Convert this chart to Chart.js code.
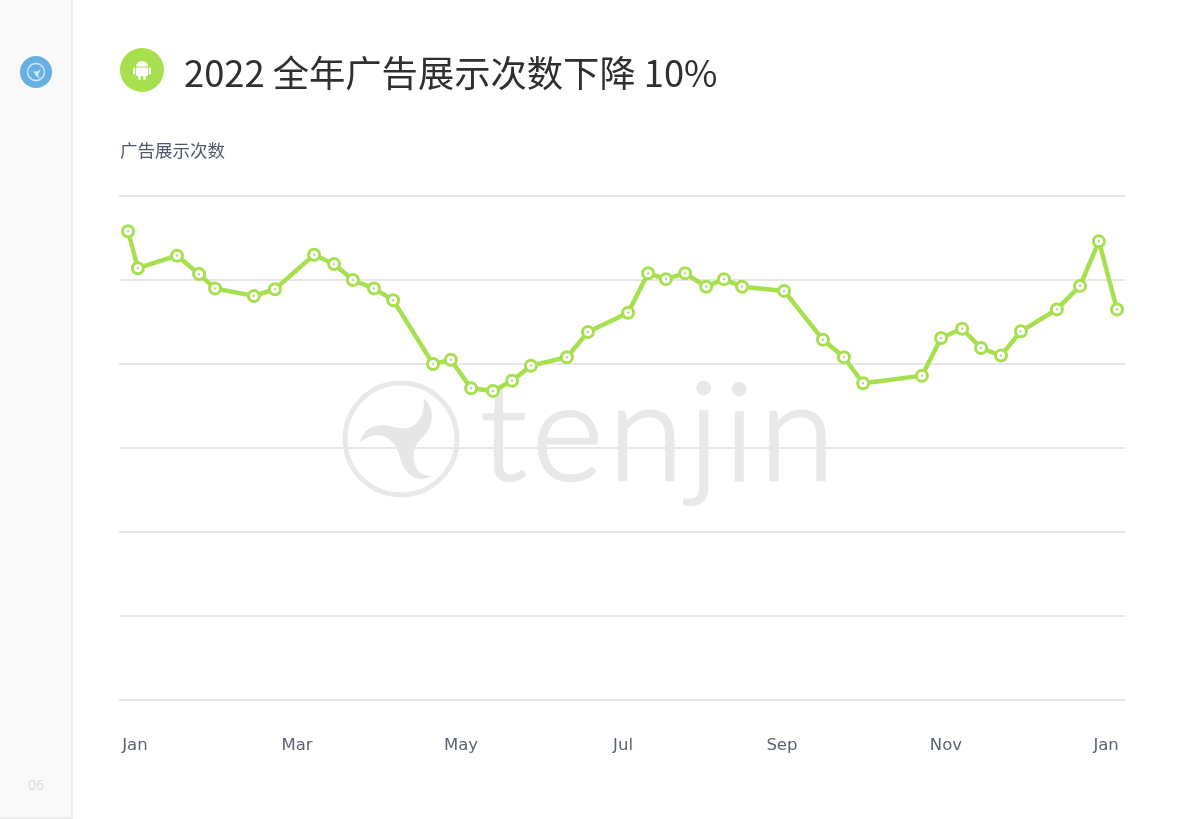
<!DOCTYPE html>
<html lang="zh">
<head>
<meta charset="utf-8">
<title>2022 全年广告展示次数下降 10%</title>
<script src="https://cdn.jsdelivr.net/npm/chart.js@4"></script>
<style>
html,body{margin:0;padding:0;background:#fff;width:1200px;height:819px;overflow:hidden}
#page{position:relative;width:1200px;height:819px;filter:blur(.45px)}
#side{position:absolute;left:0;top:0;width:71px;height:817px;background:#f9f9f9;border-right:2px solid #ececec;border-bottom:2px solid #ececec}
#num{position:absolute;left:0;width:72px;top:775px;text-align:center;font:14px "Open Sans",sans-serif;color:#dcdcdc}
#title{position:absolute;left:184px;top:46px;font:400 36.3px/50px "Noto Sans CJK SC",sans-serif;color:#2f2f2f;white-space:nowrap}
#sub{position:absolute;left:120px;top:138px;font:400 17.5px/24px "Noto Sans CJK SC",sans-serif;color:#4f5866;white-space:nowrap}
#mark{position:absolute;left:480px;top:345px;font:300 137px/165px Lato,sans-serif;color:#e8e8e8;-webkit-text-stroke:2.5px #e8e8e8;white-space:nowrap;letter-spacing:5px}
svg{position:absolute;left:0;top:0}
canvas{position:absolute;left:0;top:0}
</style>
</head>
<body>
<div id="page">
<div id="side"></div>
<div id="num">06</div>
<svg width="1200" height="819" viewBox="0 0 1200 819">
  <circle cx="36" cy="72" r="16" fill="#66b0e4"/>
  <circle cx="36" cy="72" r="8.5" fill="none" stroke="#d6ebf8" stroke-width="1.3"/>
  <path d="M40 66q1 4-2 5-3 1-8 0 4 0 5 3 1 3 5 4-3-3-1-5 2-3 1-7z" fill="#d6ebf8"/>
  <circle cx="142" cy="70" r="22" fill="#a6e04e"/>
  <path d="M136 66.500a6 5.500 0 0 1 12 0z" fill="#fff"/>
  <rect x="136" y="67.500" width="12" height="8.500" rx="1.200" fill="#fff"/>
  <rect x="133" y="67.500" width="2.300" height="7" rx="1.100" fill="#fff"/>
  <rect x="148.700" y="67.500" width="2.300" height="7" rx="1.100" fill="#fff"/>
  <rect x="138.200" y="75" width="2.500" height="5" rx="1.200" fill="#fff"/>
  <rect x="143.300" y="75" width="2.500" height="5" rx="1.200" fill="#fff"/>
  <circle cx="401" cy="439" r="56" fill="none" stroke="#e8e8e8" stroke-width="5"/>
  <path d="M424 399 C434 406 434 421 427 432 C420 441 412 445 414 460 C416 473 424 476 432 476 C422 482 410 479 403 466 C399 457 399 447 389 439 C378 432 368 436 360 443 C362 430 372 425 384 425 C396 427 404 431 413 426 C421 421 424 412 424 399Z" fill="#e6e6e6"/>
</svg>
<div id="mark">tenjin</div>
<div id="title">2022 全年广告展示次数下降 10%</div>
<div id="sub">广告展示次数</div>
<canvas id="c" width="1200" height="819"></canvas>
</div>
<script>
// Y axis has no printed values, so these are relative units.
const dayOfPeriod = [3.4,7.1,21.8,30.1,36.1,50.7,58.6,73.3,80.8,87.9,95.8,103,118,124.7,132.3,140.5,147.7,154.8,168.3,176.2,191.3,198.8,205.5,212.7,220.6,227.3,234.1,249.9,264.5,272.4,279.6,301.7,308.9,316.8,323.9,331.4,338.9,352.4,361.1,368.2,375];
const impressions = [55.8,51.4,52.9,50.7,49.0,48.1,48.9,53.0,51.9,50.0,49.0,47.6,40.0,40.5,37.1,36.8,38.0,39.8,40.8,43.8,46.1,50.8,50.1,50.8,49.2,50.1,49.2,48.7,42.9,40.8,37.7,38.6,43.1,44.2,41.9,41.0,43.9,46.5,49.3,54.6,46.5];
const tickDays = [6,66.9,128.5,189.4,249.1,310.7,370.9];
const tickLabels = ["Jan","Mar","May","Jul","Sep","Nov","Jan"];
const GREEN = "#a6e04e";
const series = dayOfPeriod.map((x,i)=>({x, y:impressions[i]}));

new Chart(document.getElementById("c"),{
  type:"line",
  data:{datasets:[
    {label:"center",data:series,showLine:false,pointRadius:1.1,pointBackgroundColor:"#a9cf72",pointBorderWidth:0,order:0},
    {label:"广告展示次数",data:series,borderColor:GREEN,borderWidth:4.5,tension:0,
     pointRadius:5.5,pointBorderWidth:3,pointBorderColor:GREEN,pointBackgroundColor:"#fff",order:1}
  ]},
  options:{
    responsive:false,animation:false,
    layout:{padding:{left:119,right:75,top:196,bottom:0}},
    plugins:{legend:{display:false},tooltip:{enabled:false},title:{display:false}},
    scales:{
      x:{type:"linear",min:0,max:378,
        afterFit:s=>{s.height=119},
        afterBuildTicks:s=>{s.ticks=tickDays.map(v=>({value:v}))},
        grid:{display:false},border:{display:false},
        ticks:{autoSkip:false,maxRotation:0,padding:28,color:"#5b6472",
          font:{family:"DejaVu Sans",size:16.5},
          callback:(v,i)=>tickLabels[i]}
      },
      y:{min:0,max:60,afterFit:s=>{s.width=0},
        grid:{color:"#e7e7e7",lineWidth:2,drawTicks:false},border:{display:false},
        ticks:{display:false,stepSize:10}
      }
    }
  }
});
</script>
</body>
</html>
